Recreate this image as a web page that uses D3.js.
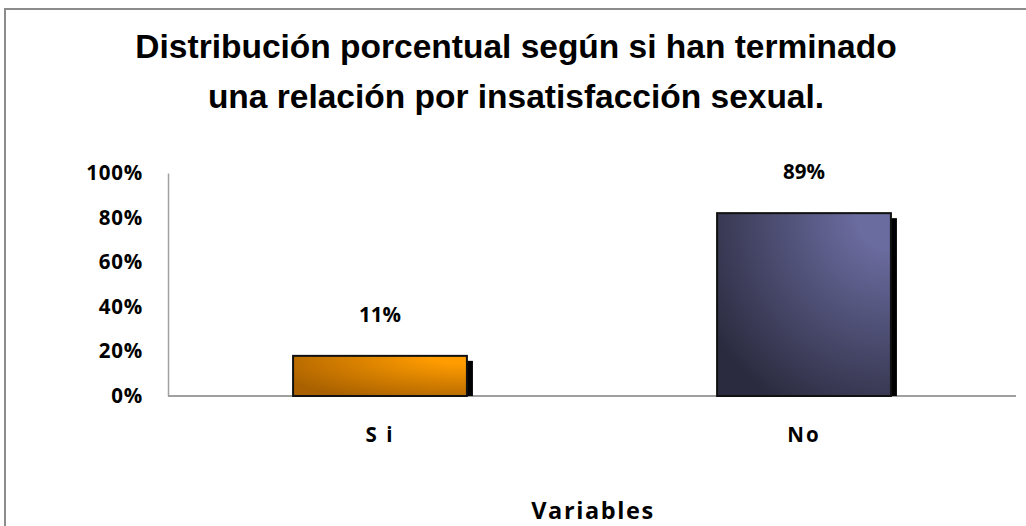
<!DOCTYPE html>
<html>
<head>
<meta charset="utf-8">
<script src="https://cdn.jsdelivr.net/npm/d3@7"></script>
<style>
  body { margin: 0; background: #fff; }
  svg text { fill: #000; }
</style>
</head>
<body>
<div id="chart"></div>
<script>

var width = 1026,
    height = 526;

// chart data
var categories = ["Si", "No"];
var barValues = [18, 82];          // bar heights as drawn (percent)
var barLabels = ["11%", "89%"];    // data labels as printed
var yTicks = [0, 20, 40, 60, 80, 100];
var titleLines = ["Distribución porcentual según si han terminado",
                  "una relación por insatisfacción sexual."];
var xTitle = "Variables";

var colors = [
  {light: "#ff9c00", dark: "#a86000"},
  {light: "#6a6b9e", dark: "#2b2b3f"}
];

var plot = {left: 168, right: 1016, top: 173, bottom: 396};
var labelFont = "Open Sans, Lato, sans-serif";

var svg = d3.select("#chart").append("svg")
    .attr("width", width)
    .attr("height", height);

// outer frame
svg.append("rect")
    .attr("x", 5)
    .attr("y", 9)
    .attr("width", 1040)
    .attr("height", 540)
    .attr("fill", "#fff")
    .attr("stroke", "#8c8c8c")
    .attr("stroke-width", 2);

// corner gradient, light at top right
var defs = svg.append("defs");
colors.forEach(function(c, i){
    var g = defs.append("radialGradient")
        .attr("id", "grad" + i)
        .attr("cx", "100%").attr("cy", "0%")
        .attr("fx", "100%").attr("fy", "0%")
        .attr("r", "135%");
    g.append("stop").attr("offset", "0%").attr("stop-color", c.light);
    g.append("stop").attr("offset", "15%").attr("stop-color", c.light);
    g.append("stop").attr("offset", "90%").attr("stop-color", c.dark);
    g.append("stop").attr("offset", "100%").attr("stop-color", c.dark);
});

var x = d3.scaleBand()
    .domain(categories)
    .range([plot.left, plot.right])
    .paddingInner(0.59)
    .paddingOuter(0.295);

var y = d3.scaleLinear()
    .domain([0, 100])
    .range([plot.bottom, plot.top]);

// title
svg.append("g").selectAll("text")
    .data(titleLines)
    .enter().append("text")
    .attr("x", 516)
    .attr("y", function(d, i){ return 58 + i * 50; })
    .attr("text-anchor", "middle")
    .attr("font-family", "Liberation Sans, Arial, sans-serif")
    .attr("font-weight", "bold")
    .attr("font-size", 33.5)
    .text(function(d){ return d; });

// y axis
var yAxis = svg.append("g")
    .attr("transform", "translate(" + plot.left + ",0)")
    .call(d3.axisLeft(y).tickValues(yTicks).tickSize(0).tickPadding(25)
        .tickFormat(function(d){ return d + "%"; }));
yAxis.select(".domain").attr("stroke", "#a0a0a0").attr("stroke-width", 1.5);
yAxis.selectAll("text")
    .attr("font-family", labelFont)
    .attr("font-weight", "bold")
    .attr("font-size", 20.5)
    .attr("letter-spacing", 0.8);

// x axis
var xAxis = svg.append("g")
    .attr("transform", "translate(0," + plot.bottom + ")")
    .call(d3.axisBottom(x).tickSize(0).tickPadding(31)
        .tickFormat(function(d){ return d === "Si" ? "S i" : d; }));
xAxis.select(".domain").attr("stroke", "#a0a0a0").attr("stroke-width", 2).attr("d", "M" + plot.left + ",0H" + plot.right);
xAxis.selectAll("text")
    .attr("font-family", labelFont)
    .attr("font-weight", "bold")
    .attr("font-size", 20.5)
    .attr("letter-spacing", 2);

svg.append("text")
    .attr("x", 593)
    .attr("y", 519)
    .attr("text-anchor", "middle")
    .attr("font-family", labelFont)
    .attr("font-weight", "bold")
    .attr("font-size", 23.5)
    .attr("letter-spacing", 1.6)
    .text(xTitle);

// bar shadows
svg.append("g").selectAll("rect")
    .data(barValues)
    .enter().append("rect")
    .attr("x", function(d, i){ return x(categories[i]) + 6; })
    .attr("y", function(d){ return y(d) + 5; })
    .attr("width", x.bandwidth())
    .attr("height", function(d){ return plot.bottom - y(d) - 5; })
    .attr("fill", "#000");

// bars
svg.append("g").selectAll("rect")
    .data(barValues)
    .enter().append("rect")
    .attr("x", function(d, i){ return x(categories[i]); })
    .attr("y", function(d){ return y(d); })
    .attr("width", x.bandwidth())
    .attr("height", function(d){ return plot.bottom - y(d); })
    .attr("fill", function(d, i){ return "url(#grad" + i + ")"; })
    .attr("stroke", "#111")
    .attr("stroke-width", 2);

// data labels
svg.append("g").selectAll("text")
    .data(barValues)
    .enter().append("text")
    .attr("x", function(d, i){ return x(categories[i]) + x.bandwidth() / 2; })
    .attr("y", function(d){ return y(d) - 34; })
    .attr("text-anchor", "middle")
    .attr("font-family", labelFont)
    .attr("font-weight", "bold")
    .attr("font-size", 20.5)
    .text(function(d, i){ return barLabels[i]; });

</script>
</body>
</html>
